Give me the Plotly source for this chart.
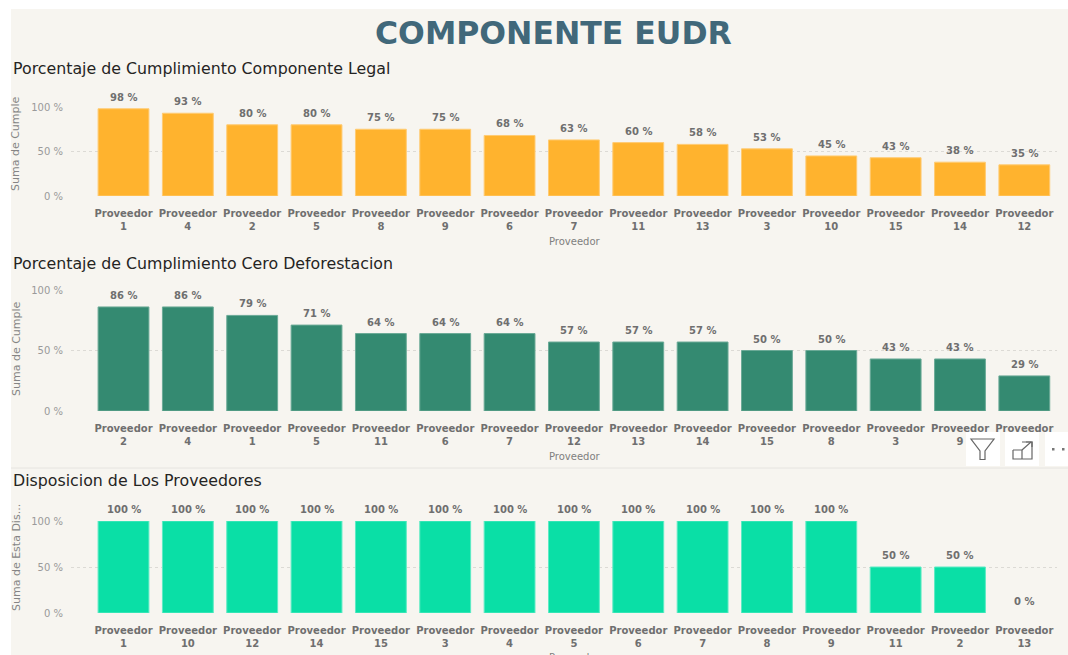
import plotly.graph_objects as go

W, H = 1068, 655

legal_labels = [1, 4, 2, 5, 8, 9, 6, 7, 11, 13, 3, 10, 15, 14, 12]
legal_values = [98, 93, 80, 80, 75, 75, 68, 63, 60, 58, 53, 45, 43, 38, 35]
defor_labels = [2, 4, 1, 5, 11, 6, 7, 12, 13, 14, 15, 8, 3, 9, 10]
defor_values = [86, 86, 79, 71, 64, 64, 64, 57, 57, 57, 50, 50, 43, 43, 29]
disp_labels = [1, 10, 12, 14, 15, 3, 4, 5, 6, 7, 8, 9, 11, 2, 13]
disp_values = [100, 100, 100, 100, 100, 100, 100, 100, 100, 100, 100, 100, 50, 50, 0]
y_ticks = [0, 50, 100]
y_tick_text = ["0 %", "50 %", "100 %"]

FONT = "DejaVu Sans"
GREY = "#6f6f6f"


def px(v):
    return v / W


def py(v):
    return 1 - v / H


panels = [
    dict(labels=legal_labels, values=legal_values, color="#FFB32E", line="#FFCB73",
         top=107, bottom=196, title="Porcentaje de Cumplimiento Componente Legal", title_y=68,
         ytitle="Suma de Cumple", ytitle_y=144, xtitle_y=241),
    dict(labels=defor_labels, values=defor_values, color="#348A71", line="#6BAA97",
         top=290, bottom=411, title="Porcentaje de Cumplimiento Cero Deforestacion", title_y=263,
         ytitle="Suma de Cumple", ytitle_y=349, xtitle_y=456),
    dict(labels=disp_labels, values=disp_values, color="#0ADFA6", line="#5DEBC4",
         top=521, bottom=613, title="Disposicion de Los Proveedores", title_y=480,
         ytitle="Suma de Esta Dis...", ytitle_y=558, xtitle_y=657),
]

fig = go.Figure()
annotations = []
layout = {}

for i, p in enumerate(panels, start=1):
    suffix = "" if i == 1 else str(i)
    names = [f"Proveedor {n}" for n in p["labels"]]
    xs = list(range(len(names)))
    fig.add_trace(go.Bar(
        x=xs, y=p["values"], width=0.79, name=p["title"],
        marker=dict(color=p["color"],
                    line=dict(color=p["line"], width=[1 if v > 0 else 0 for v in p["values"]])),
        cliponaxis=False,
        xaxis=f"x{suffix}", yaxis=f"y{suffix}", showlegend=False, hovertext=names,
    ))
    for x, v in zip(xs, p["values"]):
        annotations.append(dict(
            text=f"<b>{v} %</b>", x=x, y=v, xref=f"x{suffix}", yref=f"y{suffix}",
            xanchor="center", yanchor="bottom", yshift=4, showarrow=False,
            font=dict(family=FONT, size=10, color=GREY),
        ))
    layout[f"xaxis{suffix}"] = dict(
        domain=[px(71), px(1056.5)], range=[-0.816, 14.5], anchor=f"y{suffix}",
        tickvals=xs,
        ticktext=[f"Proveedor<br>{n}" for n in p["labels"]],
        tickfont=dict(family=FONT, size=10, color=GREY, weight="bold"),
        tickangle=0, showgrid=False, zeroline=False, showline=False, ticks="",
        ticklabelstandoff=10, automargin=False,
    )
    layout[f"yaxis{suffix}"] = dict(
        domain=[py(p["bottom"]), py(p["top"])], range=[0, 100], anchor=f"x{suffix}",
        tickvals=y_ticks, ticktext=y_tick_text,
        tickfont=dict(family=FONT, size=10, color="#9a9a9a"),
        showgrid=True, gridcolor="#dcdad5", griddash="dot", gridwidth=1,
        zeroline=False, showline=False, ticks="", ticklabelstandoff=7, automargin=False,
    )
    annotations.append(dict(
        text=p["title"], x=px(10.5), y=py(p["title_y"]), xref="paper", yref="paper",
        xanchor="left", yanchor="middle", showarrow=False,
        font=dict(family=FONT, size=15.8, color="#252423"),
    ))
    annotations.append(dict(
        text=p["ytitle"], x=px(16), y=py(p["ytitle_y"]), xref="paper", yref="paper",
        xanchor="center", yanchor="middle", textangle=-90, showarrow=False,
        font=dict(family=FONT, size=11, color="#858585"),
    ))
    annotations.append(dict(
        text="Proveedor", x=px(575), y=py(p["xtitle_y"]), xref="paper", yref="paper",
        xanchor="center", yanchor="middle", showarrow=False,
        font=dict(family=FONT, size=10, color="#7f7f7f"),
    ))

annotations.append(dict(
    text="<b>COMPONENTE EUDR</b>", x=px(553), y=py(33), xref="paper", yref="paper",
    xanchor="center", yanchor="middle", showarrow=False,
    font=dict(family=FONT, size=31.5, color="#41687A"),
))


def rect(x0, y0, x1, y1, fill, layer="above", line=None):
    return dict(type="rect", xref="paper", yref="paper", x0=px(x0), x1=px(x1), y0=py(y0), y1=py(y1),
                fillcolor=fill, layer=layer, line=dict(width=1 if line else 0, color=line or fill))


def path(points, color, close=False, fill=None):
    d = "M " + " L ".join(f"{px(a):.5f} {py(b):.5f}" for a, b in points) + (" Z" if close else "")
    return dict(type="path", xref="paper", yref="paper", path=d, layer="above",
                line=dict(color=color, width=1.2), fillcolor=fill or "rgba(0,0,0,0)")


ICON = "#666666"
shapes = [
    rect(11, 9, W, H, "#F7F5F0", layer="below"),
    dict(type="line", xref="paper", yref="paper", x0=px(11), x1=1, y0=py(468), y1=py(468),
         line=dict(color="#E6E4E0", width=1), layer="above"),
    rect(966, 432, 1000, 466, "#FFFFFF"),
    rect(1005, 432, 1039, 466, "#FFFFFF"),
    rect(1045, 432, W, 466, "#FFFFFF"),
    path([(971, 439), (994, 439), (985, 451), (985, 459.5), (980, 459.5), (980, 451)], ICON, close=True),
    path([(1013, 450), (1013, 459), (1032, 459), (1032, 442), (1022, 442)], ICON),
    path([(1013, 450), (1022, 450), (1022, 459)], ICON),
    path([(1022, 450), (1031, 442)], ICON),
    path([(1026, 442), (1032, 442), (1032, 447)], ICON),
    rect(1052, 448, 1054.5, 450.5, "#777777"),
    rect(1062, 448, 1064.5, 450.5, "#777777"),
]

fig.update_layout(
    width=W, height=H, margin=dict(l=0, r=0, t=0, b=0),
    paper_bgcolor="#FFFFFF", plot_bgcolor="rgba(0,0,0,0)",
    annotations=annotations, shapes=shapes, **layout,
)

fig.write_html("out.html", config={"displayModeBar": False},
               post_script="document.body.style.margin='0';")
